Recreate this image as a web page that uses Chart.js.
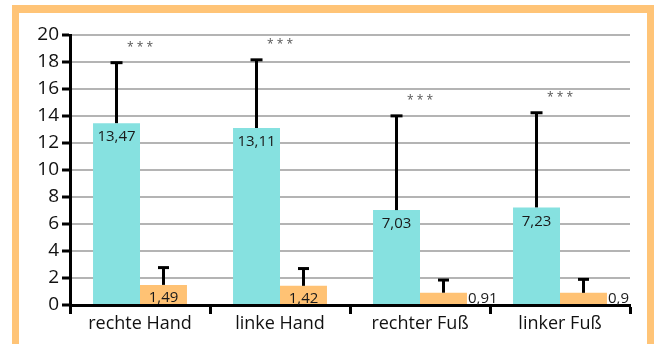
<!DOCTYPE html>
<html>
<head>
<meta charset="utf-8">
<script src="https://cdn.jsdelivr.net/npm/chart.js@4/dist/chart.umd.min.js"></script>
<style>
  html, body { margin: 0; padding: 0; background: #fff; }
  #wrap { position: relative; width: 654px; height: 344px; overflow: hidden; }
  #frame {
    position: absolute; left: 12px; top: 5px; width: 628px; height: 400px;
    border-top: 8px solid #FFC477; border-left: 7px solid #FFC477; border-right: 7px solid #FFC477;
  }
  canvas { position: absolute; left: 0; top: 0; }
</style>
</head>
<body>
<div id="wrap">
  <div id="frame"></div>
  <canvas id="c" width="654" height="344"></canvas>
</div>
<script>
// Körperregionen
const categories = ['rechte Hand', 'linke Hand', 'rechter Fuß', 'linker Fuß'];
// Mittelwerte der beiden Gruppen
const groupA = [13.47, 13.11, 7.03, 7.23];
const groupB = [1.49, 1.42, 0.91, 0.9];
// Standardabweichungen (nur nach oben dargestellt)
const sdA = [4.48, 5.05, 6.98, 7.01];
const sdB = [1.28, 1.28, 0.94, 1.0];
// Signifikanzniveaus je Region
const significance = ['***', '***', '***', '***'];
// Y-Achse
const yTicks = [0, 2, 4, 6, 8, 10, 12, 14, 16, 18, 20];

const FONT = "'Open Sans', 'DejaVu Sans', sans-serif";
const fmt = v => String(v).replace('.', ',');

const errorBars = {
  id: 'errorBars',
  afterDatasetsDraw(chart) {
    const ctx = chart.ctx, y = chart.scales.y;
    chart.data.datasets.forEach((ds, di) => {
      const meta = chart.getDatasetMeta(di);
      meta.data.forEach((bar, i) => {
        const top = y.getPixelForValue(ds.data[i] + ds.sd[i]);
        const cap = di === 0 ? 6 : 5.5;
        ctx.save();
        ctx.strokeStyle = '#000';
        ctx.lineWidth = 3;
        ctx.beginPath();
        ctx.moveTo(bar.x, bar.y);
        ctx.lineTo(bar.x, top);
        ctx.stroke();
        ctx.beginPath();
        ctx.moveTo(bar.x - cap, top);
        ctx.lineTo(bar.x + cap, top);
        ctx.stroke();
        ctx.restore();
      });
    });
  }
};

const valueLabels = {
  id: 'valueLabels',
  afterDatasetsDraw(chart) {
    const ctx = chart.ctx;
    ctx.save();
    ctx.font = '15px ' + FONT;
    ctx.fillStyle = '#1a1a1a';
    chart.data.datasets.forEach((ds, di) => {
      const meta = chart.getDatasetMeta(di);
      meta.data.forEach((bar, i) => {
        const txt = fmt(ds.data[i]);
        const h = bar.base - bar.y;
        ctx.textBaseline = 'middle';
        if (h > 16) {
          ctx.textAlign = 'center';
          ctx.fillText(txt, bar.x, bar.y + (di === 0 ? 14 : 13));
        } else {
          ctx.textAlign = 'left';
          ctx.fillText(txt, bar.x + bar.width / 2 + 1, bar.base - 5);
        }
      });
    });
    ctx.restore();
  }
};

const sigMarks = {
  id: 'sigMarks',
  afterDatasetsDraw(chart) {
    const ctx = chart.ctx, x = chart.scales.x, y = chart.scales.y;
    ctx.save();
    ctx.font = '12px ' + FONT;
    ctx.fillStyle = '#555';
    ctx.textAlign = 'center';
    ctx.textBaseline = 'alphabetic';
    significance.forEach((s, i) => {
      const top = y.getPixelForValue(groupA[i] + sdA[i]);
      ctx.fillText(s.split('').join(' '), x.getPixelForValue(i), top - 12);
    });
    ctx.restore();
  }
};

new Chart(document.getElementById('c'), {
  type: 'bar',
  data: {
    labels: categories,
    datasets: [
      { data: groupA, sd: sdA, backgroundColor: '#86E1E0', borderWidth: 0 },
      { data: groupB, sd: sdB, backgroundColor: '#FFC274', borderWidth: 0 }
    ]
  },
  options: {
    responsive: false,
    animation: false,
    events: [],
    datasets: { bar: { barPercentage: 1, categoryPercentage: 0.671 } },
    layout: { padding: { left: 0, right: 24, top: 35, bottom: 0 } },
    plugins: { legend: { display: false }, tooltip: { enabled: false } },
    scales: {
      x: {
        grid: {
          offset: true,
          drawOnChartArea: false,
          drawTicks: true,
          tickLength: 9,
          tickColor: '#000',
          tickWidth: 3
        },
        border: { color: '#000', width: 3 },
        ticks: { color: '#111', font: { family: FONT, size: 18 }, padding: -1, maxRotation: 0 },
        afterFit(axis) { axis.height = 39; }
      },
      y: {
        min: 0, max: 20,
        afterBuildTicks(axis) { axis.ticks = yTicks.map(v => ({ value: v })); },
        grid: {
          color: '#B4B4B4',
          lineWidth: 2,
          drawTicks: true,
          tickLength: 8,
          tickColor: '#000',
          tickWidth: 3
        },
        border: { color: '#000', width: 3 },
        ticks: { color: '#111', font: { family: FONT, size: 19 }, padding: 3 },
        afterFit(axis) { axis.width = 70; }
      }
    }
  },
  plugins: [errorBars, valueLabels, sigMarks]
});
</script>
</body>
</html>
